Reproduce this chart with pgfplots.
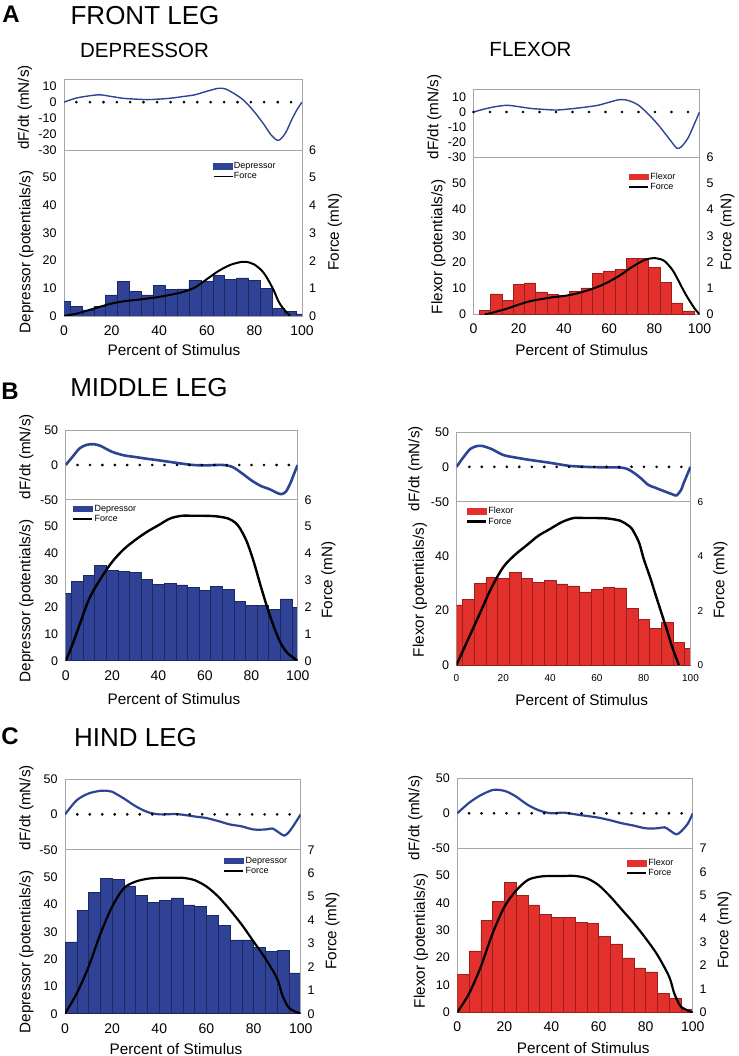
\documentclass[border=0pt]{standalone}
\usepackage{fontspec}
\setmainfont{Liberation Sans}
\usepackage{pgfplots}
\pgfplotsset{compat=1.18}

\definecolor{dblue}{HTML}{2F4295}
\definecolor{dblueedge}{HTML}{1C285F}
\definecolor{lblue}{HTML}{2D4494}
\definecolor{fred}{HTML}{E2302D}
\definecolor{frededge}{HTML}{9C1F1C}
\definecolor{axgray}{HTML}{A6A6A6}

\newcommand{\fs}[1]{\fontsize{#1}{#1}\selectfont}
\newcommand{\barlegend}[1]{\addlegendimage{legend image code/.code={\fill[#1] (0pt,-2.75pt) rectangle (19pt,2.75pt);}}}
\newcommand{\linelegend}[1]{\addlegendimage{legend image code/.code={\draw[black, line width=#1] (0pt,0pt) -- (19pt,0pt);}}}

\pgfplotsset{
  base/.style={scale only axis, anchor=north west, xmin=0, xmax=100,
    axis line style={draw=axgray, line width=0.7pt},
    major tick length=0pt, tick style={draw=none},
    /pgf/number format/assume math mode=true,
    yticklabel style={font=\fs{12.5}, xshift=-4pt},
    xticklabel style={font=\fs{14}, yshift=-6pt}},
  dfdt/.style={base, xtick=\empty},
  hist/.style={base, ymin=0, ymax=60, xtick={0,20,...,100}, ytick={0,10,...,50}},
  forceax/.style={base, axis y line*=right, axis x line=none, ymin=0, xtick=\empty,
    yticklabel style={xshift=7.5pt},
    legend cell align=left,
    legend style={anchor=north west, draw=none, fill=none, font=\fs{9},
      inner sep=0pt, row sep=0.5pt, nodes={inner sep=1pt},
      /tikz/every even column/.append style={column sep=4pt}}},
  bars/.style={ybar, bar width=5, bar shift=0pt, line width=0.5pt},
  dfline/.style={smooth, color=lblue, line width=#1},
  dots/.style={only marks, mark=*, mark size=1.15pt, black},
  frc/.style={smooth, black, line width=#1},
}

\begin{document}
\begin{tikzpicture}
\path[use as bounding box] (0,0) rectangle (738pt,-1056pt);

% ===================== A: FRONT LEG =====================
% depressor
\begin{axis}[hist, at={(64pt,-150pt)}, width=238pt, height=166pt]
\addplot[bars, fill=dblue, draw=dblueedge] coordinates {
 (0,5.2) (5,3.5) (10,2.2) (15,3.6) (20,7.6) (25,12.4) (30,8.9) (35,7.6) (40,11.1) (45,9.5)
 (50,9.8) (55,12.8) (60,12.4) (65,14.6) (70,13.2) (75,13.8) (80,12.9) (85,10.0) (90,2.7) (95,1.6) (100,0.8)};
\end{axis}
\begin{axis}[forceax, at={(64pt,-150pt)}, width=238pt, height=166pt, ymax=6, ytick={0,...,6},
  legend style={at={(0.626,0.934)}}]
\barlegend{dblue}
\addlegendentry{Depressor}
\linelegend{0.8pt}
\addlegendentry{Force}
\addplot[frc=2pt, forget plot] coordinates {
 (0,0) (5,0.08) (10,0.2) (15,0.33) (20,0.45) (25,0.53) (30,0.58) (35,0.63) (40,0.69) (45,0.77)
 (50,0.87) (55,1.03) (60,1.33) (65,1.63) (70,1.85) (75,1.96) (78,1.93) (80,1.86) (83,1.65)
 (85,1.42) (88,0.95) (90,0.55) (92,0.28) (95,0.0)};
\end{axis}
\begin{axis}[dfdt, at={(64pt,-79pt)}, width=238pt, height=71pt, ymin=-30, ymax=14.5, ytick={-30,-20,...,10}]
\addplot[dots] coordinates {(5.2,0) (10.9,0) (16.6,0) (22.2,0) (27.8,0) (33.4,0) (39.1,0) (44.8,0) (50.4,0)
 (56.0,0) (61.6,0) (67.3,0) (72.9,0) (78.5,0) (84.1,0) (89.8,0) (95.4,0)};
\addplot[dfline=1.4pt] coordinates {
 (0,0) (5,2.5) (10,3.8) (15,4.6) (20,3.5) (25,2.4) (30,1.9) (35,1.6) (40,1.9) (45,2.5) (50,3.5)
 (55,4.6) (60,6.8) (65,8.7) (68,8.2) (71,5.8) (75,1.8) (78,-2.7) (81,-8) (84,-14) (87,-20.5)
 (90,-24) (93,-19.5) (96,-10) (98,-4.5) (100,0)};
\end{axis}

% flexor
\begin{axis}[hist, at={(473.5pt,-157.3pt)}, width=226pt, height=157pt]
\addplot[bars, fill=fred, draw=frededge] coordinates {
 (5,1.4) (10,7.8) (15,5.4) (20,11.3) (25,12.0) (30,8.6) (35,7.5) (40,7.3) (45,8.8)
 (50,10.1) (55,15.6) (60,16.6) (65,17.3) (70,21.4) (75,21.3) (80,17.8) (85,12.1) (90,4.4) (95,1.3)};
\end{axis}
\begin{axis}[forceax, at={(473.5pt,-157.3pt)}, width=226pt, height=157pt, ymax=6, ytick={0,...,6},
  legend style={at={(0.684,0.910)}}]
\barlegend{fred}
\addlegendentry{Flexor}
\linelegend{2pt}
\addlegendentry{Force}
\addplot[frc=2pt, forget plot] coordinates {
 (5,0) (8,0.05) (10,0.1) (15,0.22) (20,0.37) (25,0.5) (30,0.58) (35,0.65) (40,0.7) (45,0.78)
 (50,0.9) (55,1.05) (60,1.25) (65,1.5) (70,1.8) (75,2.05) (78,2.13) (80,2.15) (83,2.1) (85,2.0)
 (88,1.7) (90,1.4) (93,0.9) (95,0.6) (98,0.2) (100,0)};
\end{axis}
\begin{axis}[dfdt, at={(473.5pt,-89.3pt)}, width=226pt, height=68pt, ymin=-30, ymax=15, ytick={-30,-20,...,10}]
\addplot[dots] coordinates {(0,0) (7.3,0) (14.6,0) (21.9,0) (29.2,0) (36.5,0) (43.8,0) (51.1,0) (58.4,0)
 (65.7,0) (73.0,0) (80.3,0) (87.6,0) (94.9,0)};
\addplot[dfline=1.4pt] coordinates {
 (0,0) (5,2) (10,3.6) (15,4.4) (20,3.5) (25,2.4) (30,1.8) (37,1.3) (45,2.4) (50,3.3) (55,4.4)
 (60,6.4) (64,8) (67,8.1) (70,6.8) (73,4.5) (76,0.5) (79,-4) (82,-9) (85,-14.7) (88,-20.5)
 (90,-24) (92,-23) (95,-17) (98,-7) (100,0)};
\end{axis}

% ===================== B: MIDDLE LEG =====================
\begin{axis}[hist, at={(65.7pt,-499.7pt)}, width=232pt, height=161pt]
\addplot[bars, fill=dblue, draw=dblueedge] coordinates {
 (0,25.0) (5,29.5) (10,31.7) (15,35.5) (20,33.8) (25,33.4) (30,33.0) (35,30.4) (40,28.4) (45,28.7)
 (50,28.3) (55,27.3) (60,26.1) (65,27.6) (70,26.6) (75,22.2) (80,20.7) (85,20.7) (90,19.0) (95,23.0) (100,19.9)};
\end{axis}
\begin{axis}[forceax, at={(65.7pt,-499.7pt)}, width=232pt, height=161pt, ymax=6, ytick={0,...,6},
  legend style={at={(0.027,0.975)}}]
\barlegend{dblue}
\addlegendentry{Depressor}
\linelegend{2.4pt}
\addlegendentry{Force}
\addplot[frc=2.4pt, forget plot] coordinates {
 (0,0) (2,0.4) (5,1.1) (10,2.28) (15,3.05) (20,3.68) (25,4.15) (30,4.5) (35,4.8) (40,5.05) (45,5.3)
 (50,5.4) (55,5.4) (60,5.4) (65,5.38) (70,5.3) (73,5.15) (75,4.95) (78,4.45) (81,3.7) (84,2.8)
 (87,1.95) (90,1.2) (93,0.6) (96,0.25) (100,0)};
\end{axis}
\begin{axis}[dfdt, at={(65.7pt,-430.3pt)}, width=232pt, height=69.4pt, ymin=-50, ymax=50, ytick={-50,0,50}]
\addplot[dots] coordinates {(5.1,0) (10.5,0) (15.8,0) (21.2,0) (26.5,0) (31.9,0) (37.3,0) (42.6,0) (48.0,0)
 (53.3,0) (58.7,0) (64.1,0) (69.4,0) (74.8,0) (80.1,0) (85.5,0) (90.9,0) (96.2,0)};
\addplot[dfline=2.6pt] coordinates {
 (0,0) (3,12) (6,24) (9,29) (12,30) (15,27.5) (20,19) (25,14) (30,11.5) (35,9) (40,6.8) (45,4.4)
 (50,2) (55,0) (60,-0.5) (65,0) (68,0) (72,-3) (76,-12) (80,-22) (84,-30) (88,-35) (91,-40)
 (93,-42) (95,-38) (97,-25) (98.5,-12) (100,0)};
\end{axis}

\begin{axis}[hist, at={(456.5pt,-501.7pt)}, width=234pt, height=163.3pt, ytick={0,20,40},
  xticklabel style={font=\fs{10}}]
\addplot[bars, fill=fred, draw=frededge] coordinates {
 (0,22.1) (5,24.2) (10,29.9) (15,32.1) (20,31.7) (25,33.9) (30,31.8) (35,30.4) (40,31.2) (45,29.8)
 (50,29.1) (55,26.9) (60,27.9) (65,28.6) (70,28.3) (75,20.9) (80,16.9) (85,13.5) (90,15.6) (95,8.2) (100,6.0)};
\end{axis}
\begin{axis}[forceax, at={(456.5pt,-501.7pt)}, width=234pt, height=163.3pt, ymax=6, ytick={0,2,4,6},
  yticklabel style={font=\fs{10}}, legend style={at={(0.040,0.973)}}]
\barlegend{fred}
\addlegendentry{Flexor}
\linelegend{2.4pt}
\addlegendentry{Force}
\addplot[frc=2.4pt, forget plot] coordinates {
 (0,0) (5,0.95) (10,1.9) (15,2.85) (20,3.6) (25,4.05) (30,4.4) (35,4.75) (40,5.0) (45,5.25)
 (50,5.4) (55,5.4) (60,5.4) (65,5.38) (70,5.3) (73,5.15) (75,5.0) (78,4.5) (80,3.9) (83,3.15)
 (85,2.6) (88,1.8) (90,1.27) (92,0.7) (93.5,0.35) (95,0)};
\end{axis}
\begin{axis}[dfdt, at={(456.5pt,-432pt)}, width=234pt, height=69.7pt, ymin=-50, ymax=50, ytick={-50,0,50}]
\addplot[dots] coordinates {(5.5,0) (10.8,0) (16.2,0) (21.5,0) (26.8,0) (32.2,0) (37.5,0) (42.8,0) (48.1,0)
 (53.5,0) (58.8,0) (64.1,0) (69.5,0) (74.8,0) (80.1,0) (85.5,0) (90.8,0) (96.1,0)};
\addplot[dfline=2.6pt] coordinates {
 (0,0) (3,14) (6,26) (9,30) (11,30) (15,25.5) (20,17) (25,13.5) (30,10.6) (35,8.2) (40,5.8) (45,3)
 (48,1.4) (55,0) (60,-0.5) (65,-0.8) (70,-1) (73,-3) (76,-9) (79,-17) (82,-26) (85,-30) (88,-34)
 (92,-39) (94,-41) (96,-33) (97,-24) (98.5,-12) (100,0)};
\end{axis}

% ===================== C: HIND LEG =====================
\begin{axis}[hist, at={(65pt,-849.7pt)}, width=235.7pt, height=164pt]
\addplot[bars, fill=dblue, draw=dblueedge] coordinates {
 (2.5,26.3) (7.5,37.9) (12.5,44.4) (17.5,49.6) (22.5,49.2) (27.5,46.8) (32.5,43.2) (37.5,40.7)
 (42.5,41.5) (47.5,42.4) (52.5,39.8) (57.5,39.2) (62.5,36.1) (67.5,32.4) (72.5,27.0) (77.5,27.0)
 (82.5,24.2) (87.5,22.7) (92.5,23.1) (97.5,14.9)};
\end{axis}
\begin{axis}[forceax, at={(65pt,-849.7pt)}, width=235.7pt, height=164pt, ymax=7, ytick={0,...,7},
  legend style={at={(0.671,0.964)}}]
\barlegend{dblue}
\addlegendentry{Depressor}
\linelegend{2.2pt}
\addlegendentry{Force}
\addplot[frc=2.2pt, forget plot] coordinates {
 (0,0) (5,0.87) (10,2.0) (15,3.4) (20,4.57) (25,5.36) (30,5.64) (35,5.76) (40,5.8) (45,5.8) (50,5.8)
 (55,5.7) (60,5.43) (65,5.0) (70,4.43) (75,3.8) (80,3.08) (85,2.36) (90,1.5) (92,0.85) (93.5,0.5)
 (95,0.25) (97,0.12) (100,0)};
\end{axis}
\begin{axis}[dfdt, at={(65pt,-779pt)}, width=235.7pt, height=70.7pt, ymin=-50, ymax=50, ytick={-50,0,50}]
\addplot[dots] coordinates {(5.2,0) (10.5,0) (15.8,0) (21.1,0) (26.4,0) (31.7,0) (37.0,0) (42.3,0) (47.6,0)
 (52.9,0) (58.2,0) (63.5,0) (68.8,0) (74.1,0) (79.4,0) (84.7,0) (90.0,0) (95.3,0)};
\addplot[dfline=2.2pt] coordinates {
 (0,0) (5,20) (10,29.5) (15,33.3) (18,33.3) (20,32) (25,22.4) (30,11.4) (35,3.3) (40,0) (47,0.5)
 (50,-0.5) (55,-3) (60,-5.2) (65,-9.5) (70,-14.3) (75,-17) (80,-21.4) (85,-21.4) (88,-20) (90,-24)
 (93,-30) (95,-25) (97,-15.7) (100,0)};
\end{axis}

\begin{axis}[hist, at={(457.3pt,-848.3pt)}, width=235.4pt, height=164pt]
\addplot[bars, fill=fred, draw=frededge] coordinates {
 (2.5,13.9) (7.5,22.5) (12.5,33.6) (17.5,40.5) (22.5,47.5) (27.5,42.9) (32.5,39.3) (37.5,35.7)
 (42.5,34.8) (47.5,34.8) (52.5,33.0) (57.5,32.6) (62.5,27.9) (67.5,25.0) (72.5,19.9) (77.5,16.3)
 (82.5,14.8) (87.5,6.8) (92.5,5.2) (97.5,1.1)};
\end{axis}
\begin{axis}[forceax, at={(457.3pt,-848.3pt)}, width=235.4pt, height=164pt, ymax=7, ytick={0,...,7},
  legend style={at={(0.717,0.942)}}]
\barlegend{fred}
\addlegendentry{Flexor}
\linelegend{2.2pt}
\addlegendentry{Force}
\addplot[frc=2.2pt, forget plot] coordinates {
 (0,0) (5,0.8) (10,1.95) (15,3.37) (20,4.5) (25,5.2) (30,5.65) (35,5.79) (40,5.82) (45,5.82) (50,5.82)
 (55,5.72) (60,5.43) (65,4.94) (70,4.37) (75,3.8) (80,3.16) (85,2.45) (90,1.52) (92,0.85) (93.5,0.5)
 (95,0.24) (98,0.07) (100,0)};
\end{axis}
\begin{axis}[dfdt, at={(457.3pt,-778.3pt)}, width=235.4pt, height=70pt, ymin=-50, ymax=50, ytick={-50,0,50}]
\addplot[dots] coordinates {(5.0,0) (10.3,0) (15.6,0) (20.9,0) (26.2,0) (31.6,0) (36.9,0) (42.2,0) (47.5,0)
 (52.8,0) (58.1,0) (63.4,0) (68.7,0) (74.0,0) (79.3,0) (84.6,0) (89.9,0) (95.3,0)};
\addplot[dfline=2.2pt] coordinates {
 (0,0) (5,15) (10,26) (15,33.3) (18,33.3) (21,31) (25,23.8) (30,11.9) (35,3.8) (40,0) (45,1)
 (50,-1.4) (55,-3.8) (60,-6.2) (65,-10) (70,-14.3) (75,-17.6) (80,-21.4) (85,-21.4) (88,-20)
 (90,-23.8) (93,-30) (95,-26) (98,-14.3) (100,0)};
\end{axis}

% ===================== headings and labels =====================
\node[font=\bfseries\fs{24}] at (11pt,-14pt) {A};
\node[font=\fs{26}] at (145pt,-16pt) {FRONT LEG};
\node[font=\fs{20.5}] at (144.5pt,-50.5pt) {DEPRESSOR};
\node[font=\fs{20.5}] at (530.5pt,-49.5pt) {FLEXOR};
\node[font=\bfseries\fs{24}] at (10pt,-391pt) {B};
\node[font=\fs{26}] at (149pt,-387.5pt) {MIDDLE LEG};
\node[font=\bfseries\fs{24}] at (10pt,-736.5pt) {C};
\node[font=\fs{26}] at (135.5pt,-738pt) {HIND LEG};

\begin{scope}[every node/.style={font=\fs{15.3}, inner sep=0pt}]
% A
\node[rotate=90] at (25pt,-107.5pt) {dF/dt (mN/s)};
\node[rotate=90] at (26.5pt,-252pt) {Depressor (potentials/s)};
\node[rotate=90] at (335pt,-232pt) {Force (mN)};
\node at (174pt,-350pt) {Percent of Stimulus};
\node[rotate=90] at (434.5pt,-117pt) {dF/dt (mN/s)};
\node[rotate=90] at (438.5pt,-247pt) {Flexor (potentials/s)};
\node[rotate=90] at (727.5pt,-232pt) {Force (mN)};
\node at (581.7pt,-350pt) {Percent of Stimulus};
% B
\node[rotate=90] at (26.5pt,-456.5pt) {dF/dt (mN/s)};
\node[rotate=90] at (26.5pt,-601pt) {Depressor (potentials/s)};
\node[rotate=90] at (328.5pt,-580pt) {Force (mN)};
\node at (174pt,-699pt) {Percent of Stimulus};
\node[rotate=90] at (415.5pt,-468.5pt) {dF/dt (mN/s)};
\node[rotate=90] at (420pt,-590pt) {Flexor (potentials/s)};
\node[rotate=90] at (720.5pt,-580pt) {Force (mN)};
\node at (581.7pt,-700pt) {Percent of Stimulus};
% C
\node[rotate=90] at (26.5pt,-807.5pt) {dF/dt (mN/s)};
\node[rotate=90] at (26.5pt,-952pt) {Depressor (potentials/s)};
\node[rotate=90] at (332.5pt,-931pt) {Force (mN)};
\node at (176pt,-1049pt) {Percent of Stimulus};
\node[rotate=90] at (415.5pt,-817.5pt) {dF/dt (mN/s)};
\node[rotate=90] at (421pt,-941pt) {Flexor (potentials/s)};
\node[rotate=90] at (724.5pt,-930pt) {Force (mN)};
\node at (583.3pt,-1048.5pt) {Percent of Stimulus};
\end{scope}
\end{tikzpicture}
\end{document}
